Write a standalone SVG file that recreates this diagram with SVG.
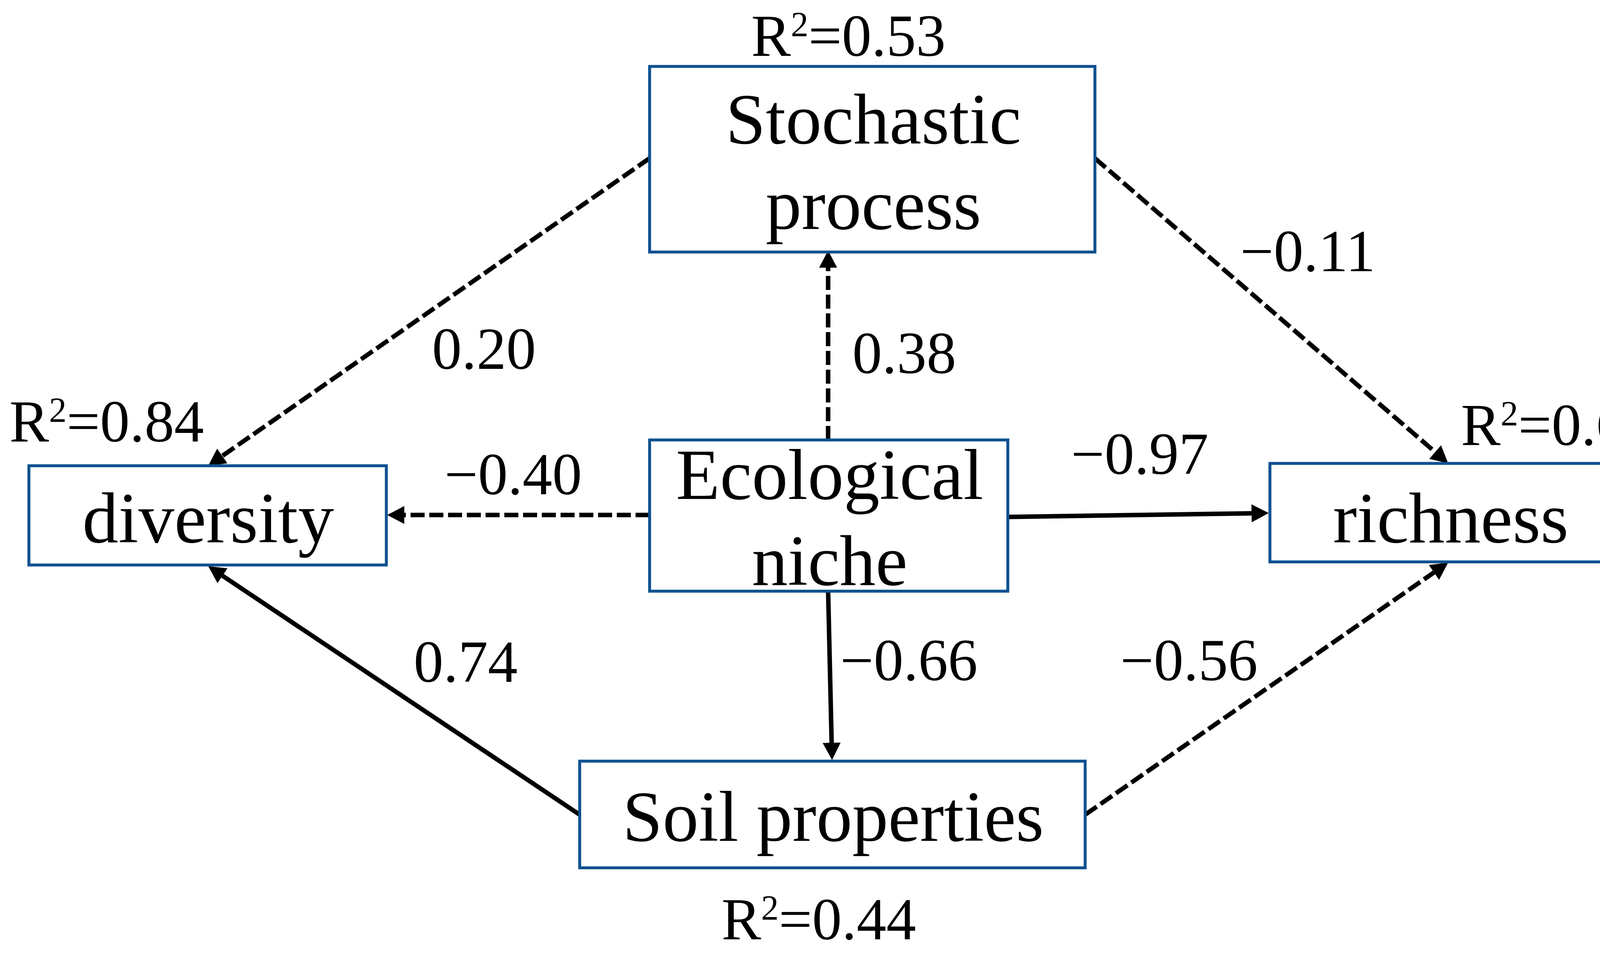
<svg xmlns="http://www.w3.org/2000/svg" width="4289" height="2439" viewBox="0 0 4289 2439">
<style>
.box{fill:#ffffff;stroke:#0e5190;stroke-width:7.5}
.node{font-family:"Liberation Serif","Times New Roman",serif;font-size:184px;fill:#000;text-anchor:middle}
.lbl{font-family:"Liberation Serif","Times New Roman",serif;font-size:152px;fill:#000}
.sup{font-size:90px}
.edge{fill:none;stroke:#000;stroke-width:11.5}
.dash{stroke-dasharray:36 12}
</style>
<defs>
<marker id="arr" markerUnits="userSpaceOnUse" viewBox="0 -25 46 50" refX="0" refY="0" markerWidth="46" markerHeight="50" orient="auto" overflow="visible">
<path d="M0,-23 L44,0 L0,23 z" fill="#000"/>
</marker>
</defs>
<rect width="4289" height="2439" fill="#ffffff"/>
<g id="connectors">
<line class="edge dash" x1="1663" y1="405" x2="569" y2="1167" marker-end="url(#arr)"/>
<line class="edge dash" x1="2803" y1="405" x2="3674" y2="1157" marker-end="url(#arr)"/>
<line class="edge dash" x1="2120" y1="1126" x2="2120" y2="685" marker-end="url(#arr)"/>
<line class="edge dash" x1="1663" y1="1318" x2="1035" y2="1318" marker-end="url(#arr)"/>
<line class="edge" x1="2580" y1="1323" x2="3204" y2="1313.7" marker-end="url(#arr)"/>
<line class="edge" x1="2120" y1="1513" x2="2129" y2="1901" marker-end="url(#arr)"/>
<line class="edge" x1="1484" y1="2085" x2="569.6" y2="1473.5" marker-end="url(#arr)"/>
<line class="edge dash" x1="2778" y1="2085" x2="3671" y2="1465" marker-end="url(#arr)"/>
</g>
<g id="stochastic">
<rect class="box" x="1663" y="170" width="1140" height="475"/>
<text class="node" x="2236" y="367">Stochastic</text>
<text class="node" x="2236" y="586">process</text>
</g>
<g id="ecological">
<rect class="box" x="1663" y="1126" width="917" height="387"/>
<text class="node" x="2124" y="1277">Ecological</text>
<text class="node" x="2124" y="1497">niche</text>
</g>
<g id="diversity">
<rect class="box" x="74" y="1192" width="915" height="254"/>
<text class="node" x="533" y="1388">diversity</text>
</g>
<g id="richness">
<rect class="box" x="3251" y="1186" width="923" height="252"/>
<text class="node" x="3714" y="1388">richness</text>
</g>
<g id="soil">
<rect class="box" x="1484" y="1948" width="1294" height="273"/>
<text class="node" x="2133" y="2152">Soil properties</text>
</g>
<g id="labels">
<text class="lbl" x="1923" y="143">R<tspan class="sup" dy="-50">2</tspan><tspan dy="50">=0.53</tspan></text>
<text class="lbl" x="24" y="1130">R<tspan class="sup" dy="-50">2</tspan><tspan dy="50">=0.84</tspan></text>
<text class="lbl" x="3740" y="1139">R<tspan class="sup" dy="-50">2</tspan><tspan dy="50">=0.61</tspan></text>
<text class="lbl" x="1847" y="2404">R<tspan class="sup" dy="-50">2</tspan><tspan dy="50">=0.44</tspan></text>
<text class="lbl" x="1106" y="944">0.20</text>
<text class="lbl" x="2182" y="955">0.38</text>
<text class="lbl" x="3175" y="694">−0.11</text>
<text class="lbl" x="1138" y="1265">−0.40</text>
<text class="lbl" x="2742" y="1213">−0.97</text>
<text class="lbl" x="1059" y="1745">0.74</text>
<text class="lbl" x="2151" y="1741">−0.66</text>
<text class="lbl" x="2868" y="1741">−0.56</text>
</g>
</svg>
